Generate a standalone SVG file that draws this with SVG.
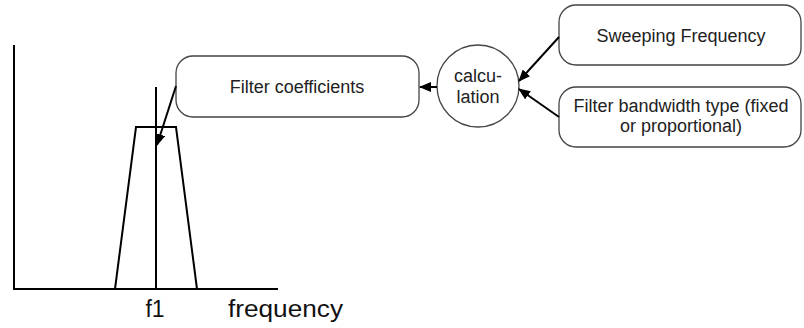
<svg xmlns="http://www.w3.org/2000/svg" width="804" height="328" viewBox="0 0 804 328">
<style>
.box{fill:#fff;stroke:#444;stroke-width:1.3}
.ln{fill:none;stroke:#000;stroke-width:2}
.t{font-family:"Liberation Sans",Arial,sans-serif;font-size:18px;fill:#222;text-anchor:middle}
.big{font-family:"Liberation Sans",Arial,sans-serif;font-size:23px;fill:#111}
</style>
<defs>
<marker id="ah" viewBox="0 0 12 10" refX="11" refY="5" markerWidth="12" markerHeight="10" markerUnits="userSpaceOnUse" orient="auto">
<path d="M0,0 L12,5 L0,10 z" fill="#000"/>
</marker>
</defs>
<g id="plot">
<polyline class="ln" points="14,45 14,289 278,289"/>
<polyline class="ln" points="115,289 136,127 176,127 197,289"/>
<line class="ln" x1="156" y1="87" x2="156" y2="289"/>
<text class="big" x="155" y="317" text-anchor="middle">f1</text>
<text class="big" x="228" y="317" textLength="115" lengthAdjust="spacingAndGlyphs">frequency</text>
</g>
<g id="filter-coefficients">
<rect class="box" x="176" y="56" width="243" height="61" rx="17" ry="17"/>
<text class="t" x="297" y="93">Filter coefficients</text>
</g>
<g id="calculation">
<circle class="box" cx="478" cy="86" r="41"/>
<text class="t" x="478" y="82">calcu-</text>
<text class="t" x="478" y="103">lation</text>
</g>
<g id="sweeping-frequency">
<rect class="box" x="559" y="5" width="242" height="60" rx="17" ry="17"/>
<text class="t" x="681" y="42">Sweeping Frequency</text>
</g>
<g id="filter-bandwidth">
<rect class="box" x="559" y="87" width="242" height="60" rx="17" ry="17"/>
<text class="t" x="681" y="112">Filter bandwidth type (fixed</text>
<text class="t" x="681" y="132">or proportional)</text>
</g>
<g id="connectors">
<line class="ln" x1="437" y1="87" x2="420" y2="87" marker-end="url(#ah)"/>
<line class="ln" x1="559" y1="37" x2="519" y2="81" marker-end="url(#ah)"/>
<line class="ln" x1="559" y1="117" x2="519" y2="89" marker-end="url(#ah)"/>
<line class="ln" x1="176" y1="86" x2="157" y2="145" marker-end="url(#ah)"/>
</g>
</svg>
